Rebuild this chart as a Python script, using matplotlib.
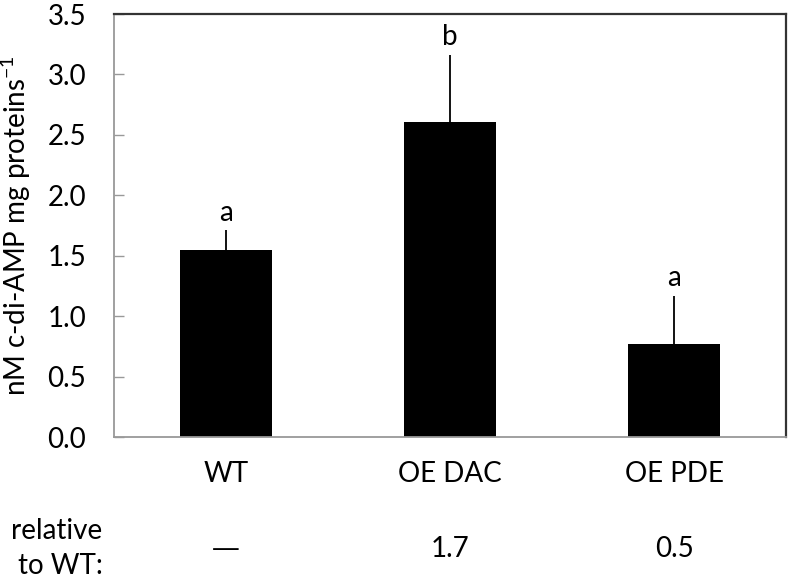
import matplotlib.pyplot as plt

plt.rcParams['font.family'] = ['Lato', 'DejaVu Sans']
plt.rcParams['mathtext.default'] = 'regular'

strains = ['WT', 'OE DAC', 'OE PDE']
cdiamp = [1.55, 2.61, 0.77]
err_up = [0.16, 0.55, 0.40]
letters = ['a', 'b', 'a']
relative = ['\u2014', '1.7', '0.5']

fig = plt.figure(figsize=(7.9, 5.81), dpi=100)
ax = fig.add_axes([0.1443, 0.2478, 0.8507, 0.7281])

x = range(len(strains))
ax.bar(x, cdiamp, width=0.41, color='black', zorder=2)
ax.errorbar(x, cdiamp, yerr=[[0] * len(err_up), err_up], fmt='none',
            ecolor='black', elinewidth=1.3, capsize=0, zorder=1)

for i, (v, e, lt) in enumerate(zip(cdiamp, err_up, letters)):
    ax.text(i, v + e + 0.04, lt, ha='center', va='bottom', fontsize=20)

ax.set_xlim(-0.5, 2.5)
ax.set_ylim(0, 3.5)
ax.set_yticks([0, 0.5, 1.0, 1.5, 2.0, 2.5, 3.0, 3.5])
ax.set_yticklabels(['%.1f' % t for t in ax.get_yticks()], fontsize=20)
ax.set_xticks(list(x))
ax.set_xticklabels(strains, fontsize=20)
ax.tick_params(axis='x', length=0, pad=17)
ax.tick_params(axis='y', direction='in', length=7, color='#999999', width=1, pad=20)

for s in ['left', 'bottom']:
    ax.spines[s].set_color('#999999')
    ax.spines[s].set_linewidth(1.3)
for s in ['top', 'right']:
    ax.spines[s].set_color('#333333')
    ax.spines[s].set_linewidth(1.6)

ax.set_ylabel('nM c-di-AMP mg proteins$^{-1}$', fontsize=20)
ax.yaxis.set_label_coords(-0.12, 0.5)

# relative row below the axis
for i, r in enumerate(relative):
    fam = ['Open Sans'] if r == '\u2014' else None
    ax.text(i, -0.93, r, ha='center', va='center', fontsize=20, family=fam)
fig.text(0.13, 0.056, 'relative\nto WT:', ha='right', va='center',
         fontsize=20, linespacing=1.4)

fig.savefig('out.png', dpi=100)
